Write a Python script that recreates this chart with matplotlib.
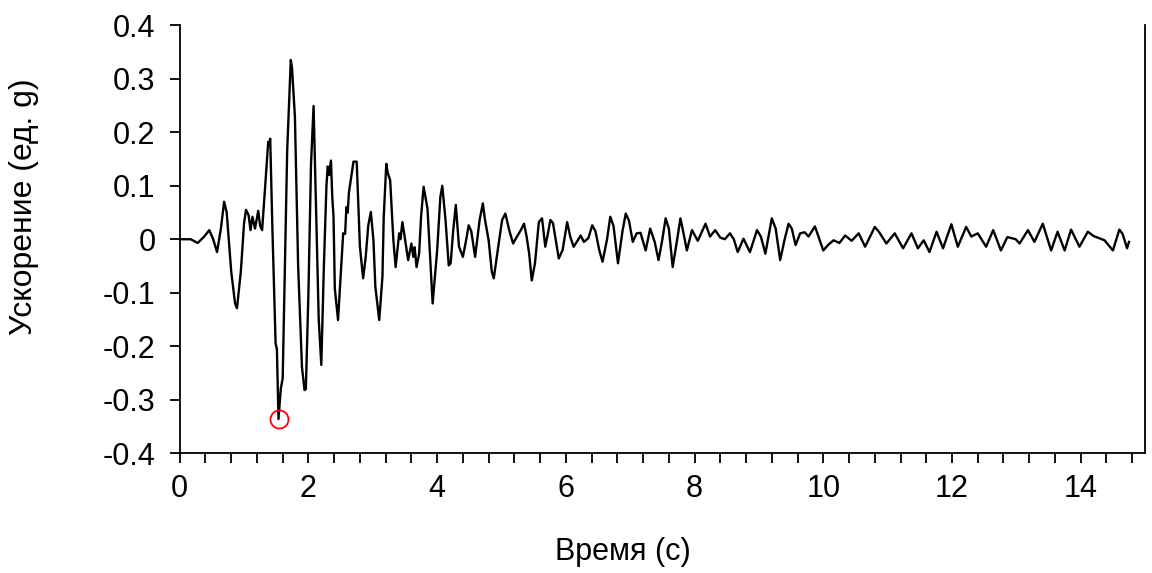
import numpy as np
import matplotlib
matplotlib.use("Agg")
import matplotlib.pyplot as plt
from matplotlib.ticker import MultipleLocator, FuncFormatter

# accelerogram vertices (time s, acceleration g)
time_s = [
    0.00, 0.17, 0.28, 0.38, 0.46, 0.52, 0.58, 0.64, 0.69, 0.73, 0.80, 0.86, 0.89, 0.95,
    1.00, 1.03, 1.07, 1.10, 1.13, 1.17, 1.22, 1.25, 1.28, 1.32, 1.375, 1.39, 1.406, 1.44,
    1.49, 1.51, 1.535, 1.57, 1.60, 1.67, 1.726, 1.745, 1.79, 1.84, 1.90, 1.94, 1.96, 2.00,
    2.04, 2.08, 2.12, 2.16, 2.20, 2.24, 2.28, 2.30, 2.32, 2.35, 2.37, 2.39, 2.41, 2.46,
    2.50, 2.54, 2.57, 2.59, 2.61, 2.63, 2.70, 2.75, 2.80, 2.85, 2.89, 2.93, 2.97, 3.01,
    3.04, 3.10, 3.15, 3.17, 3.21, 3.23, 3.27, 3.32, 3.355, 3.41, 3.43, 3.46, 3.51, 3.55,
    3.60, 3.63, 3.65, 3.68, 3.72, 3.75, 3.79, 3.85, 3.93, 4.00, 4.05, 4.08, 4.13, 4.18,
    4.21, 4.25, 4.29, 4.34, 4.40, 4.45, 4.49, 4.53, 4.59, 4.66, 4.71, 4.74, 4.80, 4.85,
    4.88, 4.96, 5.01, 5.06, 5.12, 5.18, 5.24, 5.30, 5.35, 5.39, 5.43, 5.47, 5.52, 5.58,
    5.63, 5.68, 5.72, 5.76, 5.80, 5.89, 5.95, 6.02, 6.07, 6.12, 6.17, 6.23, 6.28, 6.35,
    6.41, 6.46, 6.52, 6.57, 6.64, 6.69, 6.74, 6.81, 6.88, 6.93, 6.98, 7.04, 7.10, 7.16,
    7.24, 7.31, 7.38, 7.44, 7.50, 7.55, 7.60, 7.66, 7.73, 7.78, 7.83, 7.88, 7.96, 8.05,
    8.17, 8.24, 8.32, 8.40, 8.47, 8.55, 8.61, 8.67, 8.76, 8.86, 8.97, 9.03, 9.10, 9.20,
    9.26, 9.33, 9.40, 9.46, 9.51, 9.57, 9.64, 9.71, 9.77, 9.87, 10.00, 10.08, 10.16, 10.25,
    10.34, 10.44, 10.55, 10.65, 10.80, 10.87, 10.98, 11.11, 11.24, 11.37, 11.47, 11.56, 11.65, 11.76,
    11.86, 11.99, 12.09, 12.22, 12.30, 12.40, 12.53, 12.64, 12.76, 12.86, 12.99, 13.05, 13.18, 13.28,
    13.41, 13.54, 13.64, 13.75, 13.85, 13.98, 14.11, 14.20, 14.37, 14.50, 14.60, 14.65, 14.72, 14.75,
]
accel_g = [
    0.0, 0.0, -0.007, 0.005, 0.017, 0.0, -0.024, 0.02, 0.07, 0.05, -0.06, -0.12, -0.129, -0.06,
    0.03, 0.055, 0.045, 0.017, 0.042, 0.02, 0.053, 0.025, 0.017, 0.085, 0.182, 0.178, 0.188, 0.02,
    -0.195, -0.205, -0.336, -0.28, -0.26, 0.166, 0.335, 0.32, 0.229, -0.05, -0.24, -0.282, -0.28, -0.10,
    0.14, 0.249, 0.05, -0.15, -0.235, -0.05, 0.10, 0.136, 0.12, 0.147, 0.08, 0.042, -0.092, -0.151,
    -0.07, 0.011, 0.01, 0.06, 0.05, 0.088, 0.145, 0.145, -0.014, -0.073, -0.033, 0.026, 0.051, -0.002,
    -0.089, -0.151, -0.07, 0.042, 0.141, 0.125, 0.11, -0.002, -0.052, 0.011, 0.0, 0.032, -0.008, -0.039,
    -0.008, -0.033, -0.015, -0.052, -0.027, 0.042, 0.098, 0.057, -0.12, -0.021, 0.079, 0.10, 0.036, -0.049,
    -0.045, 0.017, 0.064, -0.014, -0.033, -0.002, 0.026, 0.015, -0.033, 0.036, 0.067, 0.039, -0.002, -0.061,
    -0.073, -0.005, 0.036, 0.048, 0.017, -0.008, 0.005, 0.017, 0.029, 0.005, -0.027, -0.077, -0.045, 0.032,
    0.039, -0.014, 0.01, 0.036, 0.03, -0.036, -0.02, 0.032, 0.004, -0.014, -0.005, 0.007, -0.005, 0.002,
    0.026, 0.015, -0.021, -0.042, 0.0, 0.042, 0.025, -0.045, 0.015, 0.048, 0.035, -0.005, 0.011, 0.012,
    -0.021, 0.02, -0.005, -0.039, 0.0, 0.039, 0.02, -0.052, 0.0, 0.039, 0.01, -0.021, 0.017, -0.003,
    0.029, 0.005, 0.017, 0.003, 0.0, 0.011, 0.0, -0.024, 0.001, -0.024, 0.017, 0.005, -0.027, 0.039,
    0.02, -0.039, 0.0, 0.029, 0.02, -0.011, 0.011, 0.013, 0.005, 0.024, -0.021, -0.01, -0.002, -0.007,
    0.007, -0.003, 0.011, -0.014, 0.023, 0.013, -0.008, 0.011, -0.017, 0.011, -0.017, -0.002, -0.024, 0.014,
    -0.017, 0.028, -0.014, 0.023, 0.005, 0.011, -0.014, 0.017, -0.021, 0.004, 0.0, -0.008, 0.017, -0.005,
    0.029, -0.021, 0.014, -0.021, 0.018, -0.014, 0.014, 0.006, -0.002, -0.021, 0.018, 0.01, -0.017, -0.005,
]
peak_time = [1.535]
peak_accel = [-0.336]

plt.rcParams['font.family'] = ['Liberation Sans', 'DejaVu Sans']

fig = plt.figure(figsize=(11.52, 5.73), dpi=100)
ax = fig.add_axes([0.156, 0.209, 0.838, 0.747])

ax.plot(time_s, accel_g, color='black', lw=1.7)
ax.plot(peak_time, peak_accel, 'o', ms=13, mfc='none', mec='red', mew=1.3)

ax.set_xlim(0, 15)
ax.set_ylim(-0.4, 0.4)
ax.xaxis.set_major_locator(MultipleLocator(2))
ax.xaxis.set_minor_locator(MultipleLocator(0.4))
ax.yaxis.set_major_locator(MultipleLocator(0.1))
ax.yaxis.set_major_formatter(FuncFormatter(lambda v, p: '%g' % round(v, 2)))

ax.spines['top'].set_visible(False)
for s in ['left', 'bottom', 'right']:
    ax.spines[s].set_linewidth(1.3)
ax.tick_params(axis='both', which='both', direction='out', width=1.3, length=7, labelsize=22)
ax.tick_params(axis='x', pad=8)
ax.tick_params(axis='y', pad=10.5)

ax.set_xlabel('Время (с)', fontsize=22, va='center')
ax.xaxis.set_label_coords(0.459, -0.231)
ax.set_ylabel('Ускорение (ед. g)', fontsize=23)
ax.yaxis.set_label_coords(-0.146, 0.577)

fig.savefig('out.png', dpi=100)
